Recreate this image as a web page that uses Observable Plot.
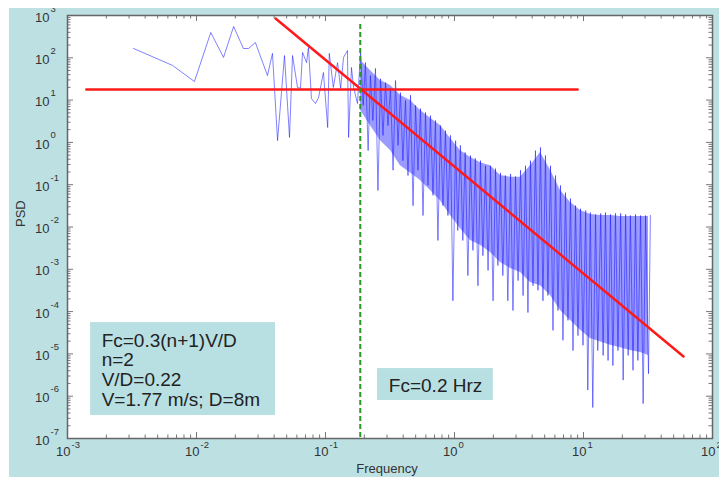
<!DOCTYPE html>
<html><head><meta charset="utf-8">
<script src="https://cdn.jsdelivr.net/npm/d3@7"></script>
<script src="https://cdn.jsdelivr.net/npm/@observablehq/plot@0.6"></script>
<style>
html,body{margin:0;padding:0;background:#fff;}
#wrap{position:relative;width:719px;height:477px;overflow:hidden;font-family:"Liberation Sans",Arial,sans-serif;}
#bg{position:absolute;left:9px;top:8px;right:0;bottom:0;background:#bde0e3;}
#chart{position:absolute;left:0;top:0;}
#maskTop{position:absolute;left:0;top:0;width:719px;height:8px;background:#fff;}
#maskLeft{position:absolute;left:0;top:0;width:9px;height:477px;background:#fff;}
</style></head><body>
<div id="wrap"><div id="bg"></div><div id="chart"></div><div id="maskTop"></div><div id="maskLeft"></div></div>
<script>
// ---- data ----
const psdFreq = [
  0.00325,0.00652,0.00964,0.0129,0.0162,0.0194,0.0231,0.0253,0.0286,0.0355,0.0388,0.0425,0.0481,0.0526,0.0555,0.0607,0.064,0.0664,0.0713,0.0738,0.0778,0.0836,0.0883,0.0964,0.104,0.107,0.115,0.124,0.131,0.138,0.148,0.151,0.159,0.165,0.177,
  0.187,0.196,0.204,0.214, 0.223,0.233,0.244,0.255, 0.267,0.279,0.292,0.305, 0.319,0.334,0.349,0.365,
  0.381,0.398,0.417,0.436, 0.456,0.477,0.499,0.521, 0.545,0.570,0.596,0.623, 0.651,0.681,0.712,0.744,
  0.778,0.814,0.851,0.889, 0.930,0.972,1.02,1.06, 1.11,1.16,1.21,1.27, 1.33,1.39,1.45,1.52,
  1.59,1.66,1.74,1.82, 1.90,1.99,2.08,2.17, 2.27,2.37,2.48,2.59, 2.72,2.84,2.97,3.11,
  3.25,3.40,3.55,3.71, 3.88,4.06,4.24,4.44, 4.64,4.85,5.07,5.30, 5.55,5.80,6.07,6.34,
  6.63,6.93,7.25,7.58, 7.93,8.29,8.67,9.06, 9.48,9.91,10.4,10.8, 11.3,11.8,12.4,12.9,
  13.6,14.2,14.8,15.5, 16.2,16.9,17.7,18.5, 19.4,20.3,21.2,22.2, 23.1,24.2,25.3,26.4,
  27.7,29.0,30.3,31.9, 33.0
];
const psdValue = [
  166,66,27.5,397,102,550,166,166,230,38,127,1.1,113,1.31,113,20,19,134,77,175,10.9,8.3,11.4,45,2.25,127,20,77,19,102,149,1.31,59,20,8.3,
  134,7.5,77,0.64, 38,3.3,56,0.073, 32,1.46,26,2.5, 19,0.22,29,0.85,
  15,0.37,9.8,0.165, 13,0.032,7.5,0.22, 6.3,0.0187,5.1,0.096, 4.3,0.056,3.3,0.0048,
  2.5,0.032,1.9,0.0187, 1.46,1.8e-4,1.1,0.0083, 0.85,0.0048,0.58,7.1e-4, 0.49,0.0028,0.42,4.1e-4,
  0.37,0.0021,0.28,9.4e-4, 0.28,1.8e-4,0.24,0.00123, 0.19,7.1e-4,0.165,1.8e-4, 0.18,1.06e-4,0.156,5.4e-4,
  0.22,2.4e-4,0.28,9.5e-5, 0.37,4.1e-4,0.64,3.2e-4, 0.76,1.8e-4,0.49,2.4e-4, 0.28,3.6e-5,0.165,1.06e-4,
  0.096,2.1e-5,0.065,6.2e-5, 0.047,1.2e-5,0.032,2.7e-5, 0.027,1.6e-5,0.0246,1.4e-6, 0.022,5.4e-7,0.0198,1.2e-5,
  0.021,9.2e-6,0.022,7.0e-6, 0.0198,5.3e-6,0.021,1.2e-5, 0.021,2.4e-6,0.0198,9.2e-6, 0.0187,4.1e-6,0.0198,7.0e-6,
  0.0187,6.7e-7,0.0187,3.4e-6, 0.0187
];
// dense band envelope (high-frequency part)
const bandFreq = [0.187,0.223,0.267,0.319,0.381,0.456,0.545,0.651,0.778,0.930,1.11,1.33,1.59,1.90,2.27,2.72,3.25,3.88,4.64,5.55,6.63,7.93,9.48,11.3,13.6,16.2,19.4,23.1,27.7,31.9];
const bandHigh = [86,50,29,22,13,9.8,5.7,3.7,2.5,1.24,0.64,0.44,0.33,0.28,0.165,0.15,0.15,0.28,0.58,0.22,0.073,0.038,0.0246,0.0198,0.0187,0.0187,0.0177,0.0177,0.0177,0.0177];
const bandLow = [5.7,2.5,1.1,0.64,0.28,0.19,0.126,0.073,0.042,0.0187,0.0092,0.0048,0.0037,0.0025,0.00145,0.00105,8.4e-4,4.9e-4,4.1e-4,2.4e-4,1.06e-4,6.2e-5,3.6e-5,2.3e-5,1.9e-5,1.6e-5,1.4e-5,1.2e-5,1.08e-5,9.2e-6];
// fitted red lines
const flatLineFreq = [0.0014, 9.0];
const flatLinePsd = [17.8, 17.8];
const slopeLineFreq = [0.041, 59.6];
const slopeLinePsd = [850, 8.7e-6];
// cut-off frequency line
const fcFreq = 0.186;
const fcPsdRange = [614, 1e-7];
// axis tick exponents
const xExponents = [-3,-2,-1,0,1,2];
const yExponents = [-7,-6,-5,-4,-3,-2,-1,0,1,2,3];
// annotations
const noteLines = ["Fc=0.3(n+1)V/D","n=2","V/D=0.22","V=1.77 m/s; D=8m"];
const fcNote = "Fc=0.2 Hrz";
const xLabel = "Frequency";
const yLabel = "PSD";

// ---- build ----
const W = 719, H = 477, mL = 67, mT = 15, mR = 7, mB = 39;
const innerW = W - mL - mR, innerH = H - mT - mB;
const psd = psdFreq.map((f, i) => ({f, p: psdValue[i]}));
const band = bandFreq.map((f, i) => ({f, hi: bandHigh[i], lo: bandLow[i]}));
const flat = flatLineFreq.map((f, i) => ({f, p: flatLinePsd[i]}));
const slope = slopeLineFreq.map((f, i) => ({f, p: slopeLinePsd[i]}));
const majorX = xExponents.map(e => 10 ** e);
const majorY = yExponents.map(e => 10 ** e);
const minorX = [], minorY = [];
xExponents.slice(0, -1).forEach(e => { for (let m = 2; m < 10; m++) minorX.push(m * 10 ** e); });
yExponents.slice(0, -1).forEach(e => { for (let m = 2; m < 10; m++) minorY.push(m * 10 ** e); });
const boxes = [
  {x1: 0.00151, x2: 0.041, y1: 5.5e-5, y2: 3.5e-7},
  {x1: 0.253, x2: 2.0, y1: 4.5e-6, y2: 7.9e-7}
];
const tickColor = "#777";
const labelColor = "#333";

const chart = Plot.plot({
  width: W, height: H,
  marginLeft: mL, marginTop: mT, marginRight: mR, marginBottom: mB,
  x: {type: "log", domain: [1e-3, 1e2], axis: null},
  y: {type: "log", domain: [1e-7, 1e3], axis: null},
  style: {background: "transparent", fontFamily: "'Liberation Sans', Arial, sans-serif", overflow: "visible"},
  marks: [
    Plot.frame({fill: "white"}),
    Plot.areaY(band, {x: "f", y1: "lo", y2: "hi", fill: "#4040ff", fillOpacity: 0.52}),
    Plot.line(psd, {x: "f", y: "p", stroke: "#1a1aff", strokeOpacity: 0.55, strokeWidth: 1}),
    Plot.line(flat, {x: "f", y: "p", stroke: "#ff1a1a", strokeWidth: 2.5}),
    Plot.line(slope, {x: "f", y: "p", stroke: "#ff1a1a", strokeWidth: 2.5}),
    Plot.ruleX([fcFreq], {x: d => d, y1: fcPsdRange[0], y2: fcPsdRange[1], stroke: "#2a962a", strokeWidth: 2, strokeDasharray: "5,3"}),
    Plot.rect(boxes, {x1: "x1", x2: "x2", y1: "y1", y2: "y2", fill: "#b8dfe2"}),
    Plot.text([noteLines.join("\n")], {x: 0.00184, y: 4.17e-6, textAnchor: "start", lineHeight: 1.04, fontSize: 19, fill: "#222"}),
    Plot.text([fcNote], {x: 0.713, y: 1.75e-6, textAnchor: "middle", fontSize: 19, fill: "#222"}),
    // ticks (inward, all four sides)
    Plot.tickX(majorX, {x: d => d, insetTop: innerH - 6, stroke: tickColor}),
    Plot.tickX(majorX, {x: d => d, insetBottom: innerH - 6, stroke: tickColor}),
    Plot.tickX(minorX, {x: d => d, insetTop: innerH - 3.5, stroke: tickColor}),
    Plot.tickX(minorX, {x: d => d, insetBottom: innerH - 3.5, stroke: tickColor}),
    Plot.tickY(majorY, {y: d => d, insetRight: innerW - 6, stroke: tickColor}),
    Plot.tickY(majorY, {y: d => d, insetLeft: innerW - 6, stroke: tickColor}),
    Plot.tickY(minorY, {y: d => d, insetRight: innerW - 3.5, stroke: tickColor}),
    Plot.tickY(minorY, {y: d => d, insetLeft: innerW - 3.5, stroke: tickColor}),
    Plot.frame({stroke: "#666", strokeWidth: 1.5}),
    // tick labels
    Plot.text(xExponents, {x: d => 10 ** d, frameAnchor: "bottom", text: () => "10", textAnchor: "end", dx: 3, dy: 17, fontSize: 13, fill: labelColor}),
    Plot.text(xExponents, {x: d => 10 ** d, frameAnchor: "bottom", text: d => String(d), textAnchor: "start", dx: 4, dy: 9, fontSize: 9.5, fill: labelColor}),
    Plot.text(yExponents, {y: d => 10 ** d, frameAnchor: "left", text: () => "10", textAnchor: "end", dx: -18, dy: 2, fontSize: 13, fill: labelColor}),
    Plot.text(yExponents, {y: d => 10 ** d, frameAnchor: "left", text: d => String(d), textAnchor: "start", dx: -17, dy: -7, fontSize: 9.5, fill: labelColor}),
    Plot.text([yLabel], {frameAnchor: "left", dx: -47, rotate: -90, fontSize: 13, fill: labelColor}),
    Plot.text([xLabel], {frameAnchor: "bottom", dy: 34, dx: -3, fontSize: 13, fill: labelColor})
  ]
});
document.getElementById("chart").appendChild(chart);
</script>
</body></html>
